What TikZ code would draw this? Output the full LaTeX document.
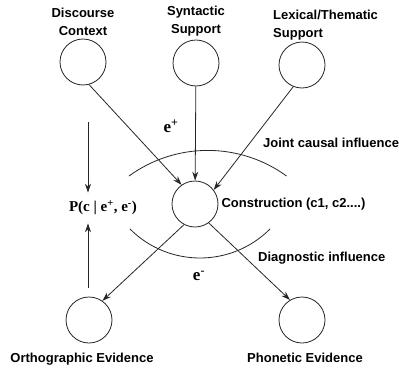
\documentclass[tikz,border=0pt]{standalone}
\usepackage{fontspec}
\setmainfont{Liberation Serif}
\setsansfont{Liberation Sans}
\usetikzlibrary{arrows.meta, positioning}
\tikzset{>={Stealth[length=9pt, width=6pt, inset=3pt]}, node distance=2pt,
	unit/.style={circle, draw=black!85, line width=0.8pt, minimum size=46pt, inner sep=0pt},
	tag/.style={font=\sffamily\bfseries\fontsize{13}{18}\selectfont, inner sep=1pt, align=center},
	sym/.style={font=\bfseries\fontsize{15}{18}\selectfont, inner sep=1pt},
	link/.style={->, line width=0.8pt, draw=black!85},
	zone/.style={line width=0.8pt, draw=black!85}}

\begin{document}
\begin{tikzpicture}[x=1pt, y=-1pt]
	\useasboundingbox (0,0) rectangle (399,375);
	% units
	\node[unit] (Disc) at (83,62) {};
	\node[unit] (Syn) at (196,63) {};
	\node[unit] (Lex) at (302,65) {};
	\node[unit] (Cons) at (195,204) {};
	\node[unit] (Orth) at (89,320) {};
	\node[unit] (Phon) at (302,320) {};
	% labels
	\node[tag, above=of Disc] (DiscTag) {Discourse\\Context};
	\node[tag, above=of Syn] (SynTag) {Syntactic\\Support};
	\node[tag, align=left, anchor=south west] (LexTag) at (272,41) {Lexical/Thematic\\Support};
	\node[tag, anchor=west, right=2pt of Cons] (ConsTag) {Construction (c1, c2....)};
	\node[tag, below=8pt of Orth, xshift=-7pt] (OrthTag) {Orthographic Evidence};
	\node[tag, below=8pt of Phon, xshift=3pt] (PhonTag) {Phonetic Evidence};
	\node[tag, anchor=west] (Joint) at (262,143) {Joint causal influence};
	\node[tag, anchor=west] (Diag) at (257,258) {Diagnostic influence};
	\node[sym, font=\bfseries\fontsize{17}{18}\selectfont] (EPlus) at (171,126) {e\textsuperscript{+}};
	\node[sym, font=\bfseries\fontsize{17}{18}\selectfont] (EMinus) at (199,276) {e\textsuperscript{-}};
	\node[sym, inner ysep=8pt] (Prob) at (103,208) {P(c | e\textsuperscript{+}, e\textsuperscript{-})};
	\coordinate (PTop) at (88,122);
	\coordinate (PBot) at (88,288);
	% influence zones
	\draw[zone] (129,176) arc[start angle=234, end angle=306, radius=134];
	\draw[zone] (130,229) arc[start angle=135, end angle=45, radius=99];
	% links
	\draw[link] (Disc.-75) -- (Cons.125);
	\draw[link] (Syn) -- (Cons);
	\draw[link] (Lex.-112) -- (Cons.37);
	\draw[link] (Cons.242) -- (Orth.55);
	\draw[link] (Cons.-54) -- (Phon.121);
	\draw[link] (PTop) -- (PTop |- Prob.north);
	\draw[link] (PBot) -- (PBot |- Prob.south);
\end{tikzpicture}
\end{document}
